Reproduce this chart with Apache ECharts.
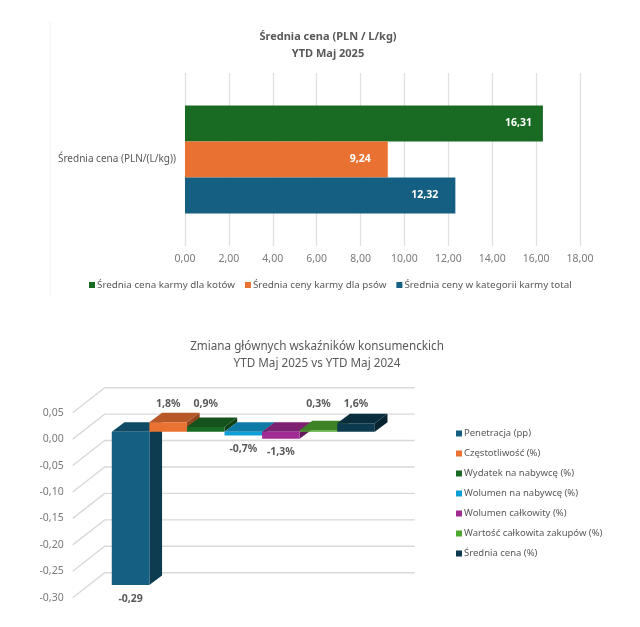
<!DOCTYPE html>
<html><head><meta charset="utf-8">
<style>html,body{margin:0;padding:0;background:#fff}#c{width:640px;height:627px}</style>
<script src="https://cdn.jsdelivr.net/npm/echarts@6/dist/echarts.min.js"></script>
</head><body><div id="c"></div>
<script>
const priceCategory = ['Średnia cena (PLN/(L/kg))'];
const priceSeries = ['Średnia cena karmy dla kotów', 'Średnia ceny karmy dla psów', 'Średnia ceny w kategorii karmy total'];
const priceValues = [16.31, 9.24, 12.32];
const priceColors = ['#196B24', '#E97132', '#156082'];
const changeNames = ['Penetracja (pp)', 'Częstotliwość (%)', 'Wydatek na nabywcę (%)', 'Wolumen na nabywcę (%)', 'Wolumen całkowity (%)', 'Wartość całkowita zakupów (%)', 'Średnia cena (%)'];
const changeValues = [-0.29, 0.018, 0.009, -0.007, -0.013, 0.003, 0.016];
const changeLabels = ['-0,29', '1,8%', '0,9%', '-0,7%', '-1,3%', '0,3%', '1,6%'];
const changeColors = ['#156082', '#E97132', '#196B24', '#0F9ED5', '#A02B93', '#4EA72E', '#0D3A4E'];
const wallTicks = [0.05, 0, -0.05, -0.1, -0.15, -0.2, -0.25, -0.3];

const FONT = '"Noto Sans", sans-serif';
const GREY = '#595959', TICK = '#7a7a7a', LINE = '#d9d9d9';
const comma = v => v.toFixed(2).replace('.', ',');
function shade(hex, f) {
  const n = parseInt(hex.slice(1), 16);
  return 'rgb(' + [n >> 16, (n >> 8) & 255, n & 255].map(c => Math.round(c * f)).join(',') + ')';
}
const WALL = { dx: 32, dy: -25 }, GAP = { dx: 9.4, dy: -7.3 }, DEPTH = { dx: 12.7, dy: -9.5 };

function wallItem(params, api) {
  const p = api.coord([api.value(0), api.value(1)]);
  const cs = params.coordSys;
  const x0 = cs.x, y = p[1];
  return { type: 'polyline', silent: true,
    shape: { points: [[x0, y], [x0 + WALL.dx, y + WALL.dy], [x0 + cs.width + WALL.dx, y + WALL.dy]] },
    style: { stroke: LINE, lineWidth: 1.4, fill: null } };
}
function barItem(idx) {
  return function (params, api) {
    const v = changeValues[idx], col = changeColors[idx];
    const a = api.coord([idx, 0]), b = api.coord([idx + 1, v]);
    const xl = a[0] + GAP.dx, xr = b[0] + GAP.dx;
    const y0 = a[1] + GAP.dy, yv = b[1] + GAP.dy;
    const top = Math.min(y0, yv), bot = Math.max(y0, yv);
    const d = DEPTH;
    const labelY = v >= 0 ? y0 - 28 : bot + 13.5;
    return { type: 'group', children: [
      { type: 'polygon', shape: { points: [[xr, top], [xr + d.dx, top + d.dy], [xr + d.dx, bot + d.dy], [xr, bot]] }, style: { fill: shade(col, 0.62) } },
      { type: 'polygon', shape: { points: [[xl, top], [xl + d.dx, top + d.dy], [xr + d.dx, top + d.dy], [xr, top]] }, style: { fill: shade(col, 0.78) } },
      { type: 'rect', shape: { x: xl, y: top, width: xr - xl, height: bot - top }, style: { fill: col } },
      { type: 'text', z2: 50, style: { x: (xl + xr) / 2, y: labelY, text: changeLabels[idx], fill: GREY, font: 'bold 10.5px ' + FONT, align: 'center', verticalAlign: 'middle' } }
    ] };
  };
}
const priceDistances = [11, 17, 17];
const series = [];
priceSeries.forEach((name, i) => series.push({
  type: 'bar', name, xAxisIndex: 0, yAxisIndex: 0, data: [priceValues[i]],
  barWidth: 36, barGap: 0, itemStyle: { color: priceColors[i] },
  label: { show: true, position: 'insideRight', distance: priceDistances[i], color: '#fff', fontFamily: FONT, fontWeight: 'bold', fontSize: 10.5, formatter: p => comma(p.value) }
}));
series.push({ type: 'custom', name: 'wall', xAxisIndex: 1, yAxisIndex: 1, silent: true, z: 1, clip: false,
  data: wallTicks.map(t => [0, t]), renderItem: wallItem, encode: { x: 0, y: 1 } });
changeNames.forEach((name, i) => series.push({
  type: 'custom', name, xAxisIndex: 1, yAxisIndex: 1, z: 2 + i, clip: false,
  itemStyle: { color: changeColors[i] }, data: [[i, changeValues[i]]],
  renderItem: barItem(i), encode: { x: 0, y: 1 }
}));

const option = {
  animation: false, backgroundColor: '#fff',
  textStyle: { fontFamily: FONT },
  title: [
    { text: 'Średnia cena (PLN / L/kg)\nYTD Maj 2025', left: 323, top: 23, textAlign: 'center',
      textStyle: { fontFamily: FONT, fontSize: 11, fontWeight: 'bold', color: GREY, lineHeight: 17 } },
    { text: 'Zmiana głównych wskaźników konsumenckich\nYTD Maj 2025 vs YTD Maj 2024', left: 312, top: 333, textAlign: 'center',
      textStyle: { fontFamily: FONT, fontSize: 11.7, fontWeight: 'normal', color: GREY, lineHeight: 17 } }
  ],
  legend: [
    { data: priceSeries, left: 84, top: 275, itemWidth: 6, itemHeight: 6, itemGap: 10, icon: 'rect', selectedMode: false,
      textStyle: { fontFamily: FONT, fontSize: 9.8, color: GREY, padding: [0, 0, 0, -3] } },
    { data: changeNames, left: 451, top: 422, orient: 'vertical', itemWidth: 6, itemHeight: 6, itemGap: 7, icon: 'rect', selectedMode: false,
      textStyle: { fontFamily: FONT, fontSize: 9.5, color: GREY, padding: [0, 0, 0, -3], lineHeight: 13 } }
  ],
  grid: [
    { left: 185, top: 73, width: 395, height: 173 },
    { left: 72.7, top: 412.7, width: 310, height: 185 }
  ],
  xAxis: [
    { type: 'value', gridIndex: 0, min: 0, max: 18, interval: 2,
      axisLine: { show: false }, axisTick: { show: false },
      axisLabel: { formatter: comma, color: TICK, fontSize: 10.5, fontFamily: FONT, margin: 8 },
      splitLine: { lineStyle: { color: '#e0e0e0', width: 1.3 } } },
    { type: 'value', gridIndex: 1, min: -0.79, max: 7.46, show: false, splitLine: { show: false } }
  ],
  yAxis: [
    { type: 'category', gridIndex: 0, data: priceCategory, inverse: true,
      axisLine: { show: false }, axisTick: { show: false },
      axisLabel: { color: GREY, fontSize: 10, fontFamily: FONT, margin: 9 } },
    { type: 'value', gridIndex: 1, min: -0.3, max: 0.05, interval: 0.05,
      axisLine: { show: false }, axisTick: { show: false }, splitLine: { show: false },
      axisLabel: { formatter: comma, color: TICK, fontSize: 10.5, fontFamily: FONT, margin: 9, padding: [5, 0, 0, 0] } }
  ],
  graphic: [{ type: 'line', silent: true, shape: { x1: 50, y1: 22, x2: 50, y2: 296 }, style: { stroke: '#f0f0f0', lineWidth: 1 } }],
  series
};
echarts.init(document.getElementById('c'), null, { renderer: 'canvas' }).setOption(option);
</script></body></html>
